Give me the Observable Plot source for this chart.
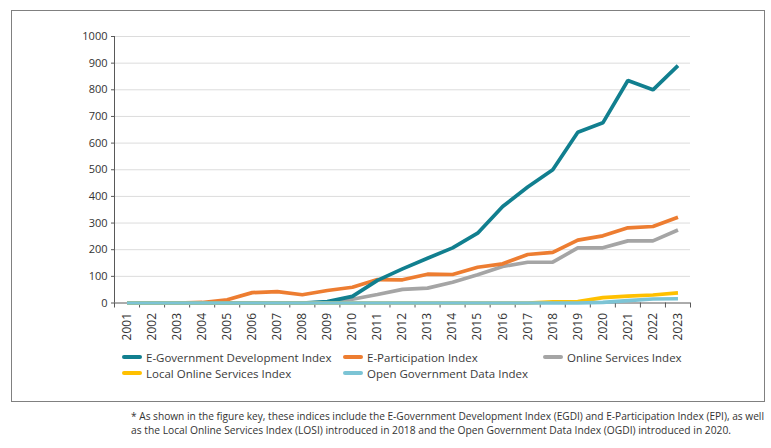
<!DOCTYPE html>
<html><head><meta charset="utf-8">
<script src="https://cdn.jsdelivr.net/npm/d3@7"></script>
<script src="https://cdn.jsdelivr.net/npm/@observablehq/plot@0.6"></script>
<style>
body{margin:0;background:#fff;font-family:"Open Sans",sans-serif;}
#wrap{position:relative;width:771px;height:448px;overflow:hidden;background:#fff;}
#box{position:absolute;left:11px;top:10px;width:752px;height:390px;border:1.5px solid #808080;}
#chart{position:absolute;left:0;top:0;}
.leg{position:absolute;font-size:11.5px;color:#3a3a3a;white-space:nowrap;display:flex;align-items:center;height:16px;}
.sw{width:20px;height:4.5px;border-radius:2.5px;margin-right:4px;}
#note{position:absolute;left:0;top:405px;}
</style></head>
<body><div id="wrap"><div id="box"></div><div id="chart"></div><div id="legend"></div><svg id="note" width="771" height="43"></svg></div>
<script>
const years = [2001,2002,2003,2004,2005,2006,2007,2008,2009,2010,2011,2012,2013,2014,2015,2016,2017,2018,2019,2020,2021,2022,2023];
const egdi = [0,0,0,0,0,0,0,0,5,25,85,128,168,207,262,362,435,500,641,676,835,800,891];
const epi  = [0,0,0,2,12,39,43,31,47,59,88,87,108,107,134,147,182,190,236,252,282,287,322];
const osi  = [0,0,0,0,0,0,0,0,2,14,32,51,56,78,106,137,153,153,207,207,233,233,274];
const losi = [0,0,0,0,0,0,0,0,0,0,0,0,0,0,0,0,0,4,5,20,26,30,38];
const ogdi = [0,0,0,0,0,0,0,0,0,0,0,0,0,0,0,0,0,0,0,2,9,15,16];
const yTicks = [0,100,200,300,400,500,600,700,800,900,1000];
const seriesNames = ["E-Government Development Index","E-Participation Index","Online Services Index","Local Online Services Index","Open Government Data Index"];
const seriesColors = ["#117f8f","#ed7d31","#a5a5a5","#ffc000","#7cc4d5"];
const seriesValues = [egdi, epi, osi, losi, ogdi];
const drawOrder = [2,1,0,3,4];
const noteLines = ["* As shown in the figure key, these indices include the E-Government Development Index (EGDI) and E-Participation Index (EPI), as well",
  "as the Local Online Services Index (LOSI) introduced in 2018 and the Open Government Data Index (OGDI) introduced in 2020."];

const bounds = years.map(y => y - 0.5).concat([years[years.length-1] + 0.5]);
const lineMarks = drawOrder.map(k => Plot.lineY(years.map((yr,i)=>({year:yr, value:seriesValues[k][i]})),
  {x:"year", y:"value", stroke:seriesColors[k], strokeWidth:3.7, strokeLinejoin:"miter", strokeLinecap:"butt"}));

const chart = Plot.plot({
  width:771, height:345,
  marginLeft:114, marginRight:81, marginTop:36, marginBottom:42.5,
  x:{type:"linear", domain:[bounds[0], bounds[bounds.length-1]]},
  y:{domain:[0,1000]},
  style:{fontFamily:"Open Sans", fontSize:"11px", color:"#333", background:"transparent"},
  marks:[
    Plot.ruleY(yTicks.slice(1), {stroke:"#dcdcdc", strokeWidth:1}),
    Plot.axisY({ticks:yTicks, tickSize:3, tickPadding:4, tickFormat:d=>String(d), label:null, stroke:"#595959", fontSize:11}),
    Plot.axisX({ticks:years, tickSize:0, tickPadding:10, tickRotate:-90, tickFormat:d=>String(d), label:null, fontSize:12}),
    Plot.axisX({ticks:bounds, tickSize:5, tickFormat:()=>"", label:null, stroke:"#595959"}),
    Plot.ruleX([bounds[0]], {y1:0, y2:1000, stroke:"#595959"}),
    Plot.ruleY([0], {stroke:"#595959"}),
    ...lineMarks
  ]
});
document.getElementById("chart").appendChild(chart);

const legPos = [[122,349],[343,349],[543,349],[122,365],[343,365]];
const legend = document.getElementById("legend");
seriesNames.forEach((n,k)=>{
  const d = document.createElement("div");
  d.className="leg"; d.style.left=legPos[k][0]+"px"; d.style.top=legPos[k][1]+"px";
  d.innerHTML = `<span class="sw" style="background:${seriesColors[k]}"></span><span>${n}</span>`;
  legend.appendChild(d);
});

const note = d3.select("#note");
const noteLen = [633, 600];
noteLines.forEach((t,i)=>{
  note.append("text").attr("x",131).attr("y",15+i*14).attr("font-family","Open Sans").attr("font-size",10)
    .attr("fill","#333").attr("textLength",noteLen[i]).attr("lengthAdjust","spacingAndGlyphs").text(t);
});
</script></body></html>
